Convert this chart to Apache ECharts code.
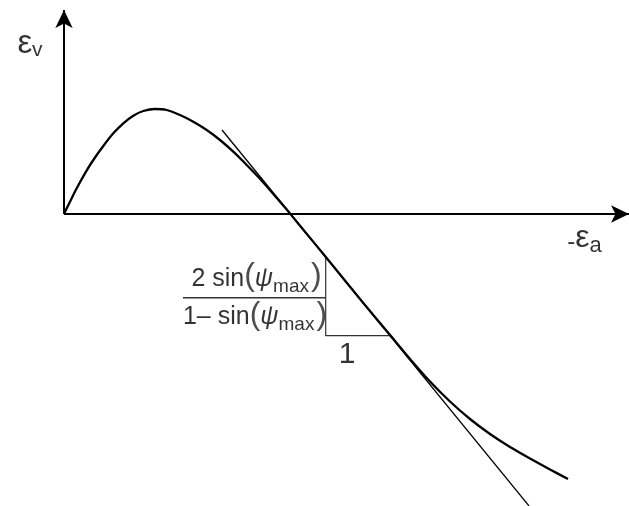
<!DOCTYPE html>
<html>
<head>
<meta charset="utf-8">
<script src="https://cdn.jsdelivr.net/npm/echarts@6/dist/echarts.min.js"></script>
<style>
  html, body { margin: 0; padding: 0; background: #ffffff; }
  #chart { width: 629px; height: 506px; }
</style>
</head>
<body>
<div id="chart"></div>
<script>
// Volumetric strain vs. axial strain: dilatant response with tangent at max dilation rate
const curveX = [0, 0.06, 0.127, 0.21, 0.293, 0.393, 0.493, 0.593, 0.693, 0.793, 0.91, 1.027, 1.16, 1.293, 1.427, 1.56, 1.693, 1.827, 1.96, 2.093, 2.227, 2.36, 2.61, 2.96, 3.28, 3.46, 3.66, 3.86, 4.06, 4.26, 4.46, 4.66, 4.86, 5.04];
const curveY = [0, 0.123, 0.257, 0.407, 0.54, 0.68, 0.807, 0.907, 0.983, 1.03, 1.05, 1.04, 0.99, 0.923, 0.84, 0.74, 0.623, 0.49, 0.352, 0.20, 0.044, -0.117, -0.421, -0.85, -1.233, -1.449, -1.675, -1.875, -2.05, -2.20, -2.33, -2.445, -2.555, -2.65];

// tangent line (slope of the dilatancy line)
const tangentX = [1.58, 4.65];
const tangentY = [0.84, -2.919];

// slope triangle: vertical leg then horizontal leg of length 1
const triangleX = [2.617, 2.617, 3.264];
const triangleY = [-0.427, -1.217, -1.217];

// fraction bar of the slope label
const barX = [1.19, 2.617];
const barY = [-0.837, -0.837];

// axis extents (origin at 0,0)
const xAxisEnd = 5.65;
const yAxisEnd = 2.04;

// text anchors
const labelNames = ['epsV', 'epsA', 'numer', 'denom', 'one'];
const labelX = [-0.34, 5.205, 1.925, 1.91, 2.83];
const labelY = [1.70, -0.256, -0.643, -1.027, -1.406];
const labelText = [
  '{e|ε}{s2|v}',
  '{m|-}{ea|ε}{sa|a}',
  '{t|2 sin}{p|(}{g|ψ}{s|max}{q|)}',
  '{t|1– sin}{p|(}{g|ψ}{s|max}{q|)}',
  '{one|1}'
];

const zip = (xs, ys) => xs.map((x, i) => [x, ys[i]]);

const FONT = '"Liberation Sans", Arial, sans-serif';
const base = { fontFamily: FONT, color: '#000', verticalAlign: 'bottom' };
const rich = {
  e:   Object.assign({}, base, { fontSize: 33 }),
  s2:  Object.assign({}, base, { fontSize: 21 }),
  s:   Object.assign({}, base, { fontSize: 19 }),
  m:   Object.assign({}, base, { fontSize: 24, padding: [0, 0, 2, 0] }),
  ea:  Object.assign({}, base, { fontSize: 32, padding: [0, 0, 2, 0] }),
  sa:  Object.assign({}, base, { fontSize: 22 }),
  t:   Object.assign({}, base, { fontSize: 25, padding: [0, 0, 5, 0] }),
  g:   Object.assign({}, base, { fontSize: 25, padding: [0, 0, 5, 0], fontStyle: 'italic' }),
  p:   Object.assign({}, base, { fontSize: 32, padding: [0, 0, 4, 0], color: '#222' }),
  q:   Object.assign({}, base, { fontSize: 32, padding: [0, 0, 4, 2], color: '#222' }),
  one: Object.assign({}, base, { fontSize: 30 })
};

const chart = echarts.init(document.getElementById('chart'), null, { renderer: 'canvas' });

chart.setOption({
  animation: false,
  backgroundColor: '#ffffff',
  grid: { left: 0, right: 0, top: 0, bottom: 0 },
  xAxis: { type: 'value', min: -0.64, max: 5.65, show: false },
  yAxis: { type: 'value', min: -2.92, max: 2.14, show: false },
  series: [
    {
      name: 'curve',
      type: 'line',
      data: zip(curveX, curveY),
      smooth: 0.25,
      symbol: 'none',
      clip: false,
      lineStyle: { color: '#000', width: 2.3 },
      z: 5,
      markLine: {
        silent: true,
        symbol: ['none', 'arrow'],
        symbolSize: [13, 18],
        label: { show: false },
        lineStyle: { color: '#000', width: 2, type: 'solid' },
        data: [
          [{ coord: [0, 0] }, { coord: [0, yAxisEnd] }],
          [{ coord: [0, 0] }, { coord: [xAxisEnd, 0] }]
        ]
      }
    },
    {
      name: 'tangent',
      type: 'line',
      data: zip(tangentX, tangentY),
      symbol: 'none',
      clip: false,
      lineStyle: { color: '#000', width: 1.3 }
    },
    {
      name: 'triangle',
      type: 'line',
      data: zip(triangleX, triangleY),
      symbol: 'none',
      clip: false,
      lineStyle: { color: '#333', width: 1.2 }
    },
    {
      name: 'bar',
      type: 'line',
      data: zip(barX, barY),
      symbol: 'none',
      clip: false,
      lineStyle: { color: '#333', width: 1.4 }
    },
    {
      name: 'labels',
      type: 'scatter',
      symbolSize: 0,
      clip: false,
      data: labelNames.map((n, i) => ({ name: n, value: [labelX[i], labelY[i]] })),
      label: {
        show: true,
        position: 'inside',
        formatter: p => labelText[p.dataIndex],
        rich: rich
      }
    }
  ]
});
</script>
</body>
</html>
